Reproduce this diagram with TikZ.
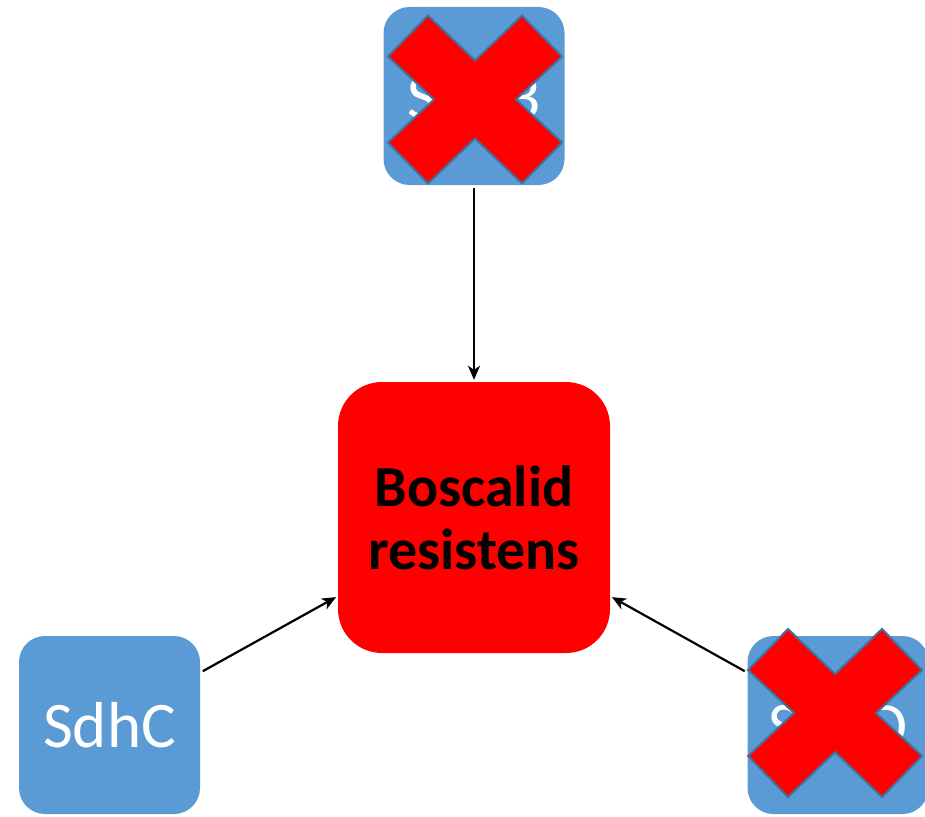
\documentclass[tikz,border=0pt]{standalone}
\usepackage{fontspec}
\setmainfont{Carlito}
\usetikzlibrary{arrows.meta}

\definecolor{geneblue}{HTML}{5B9BD5}
\definecolor{crossedge}{HTML}{41719C}

% red cross drawn over a knocked-out gene
\newcommand{\redcross}[2]{%
  \filldraw[crossmark, shift={(#1)}, shift={(#2)}]
    (-47,-84) -- (0,-39) -- (47,-84) -- (87,-43) -- (41,0) -- (87,43)
    -- (47,84) -- (0,39) -- (-47,84) -- (-87,43) -- (-41,0) -- (-87,-43) -- cycle;}

\begin{document}
\begin{tikzpicture}[x=1pt, y=-1pt,
    genenode/.style = {rectangle, rounded corners=26pt, fill=geneblue, text=white,
      minimum width=181pt, minimum height=178pt, inner sep=0pt,
      font=\fontsize{65}{78}\selectfont},
    resnode/.style = {rectangle, rounded corners=44pt, fill=red, text=black,
      minimum width=272pt, minimum height=271pt, inner sep=0pt, align=center,
      font=\bfseries\fontsize{58}{63}\selectfont},
    crossmark/.style = {fill=red, draw=crossedge, line width=2pt, line join=miter},
    arr/.style = {-{Stealth[length=14pt, width=12pt, inset=4pt]}, line width=2.2pt,
      shorten <=3pt, shorten >=2pt}]
  \useasboundingbox (0,0) rectangle (925,816);

  \node[resnode] (res) at (474,517.5) {Boscalid\\resistens};
  \node[genenode] (sdhb) at (474,96) {SdhB};
  \node[genenode] (sdhc) at (109.5,725) {SdhC};
  \node[genenode] (sdhd) at (838,725) {SdhD};

  \redcross{sdhb}{1,3.5}
  \redcross{sdhd}{-3,-12}

  \draw[arr] (sdhb.south) -- (res.north);
  \draw[arr] (sdhc.30) -- (res.210);
  \draw[arr] (sdhd.150) -- (res.330);
\end{tikzpicture}
\end{document}
